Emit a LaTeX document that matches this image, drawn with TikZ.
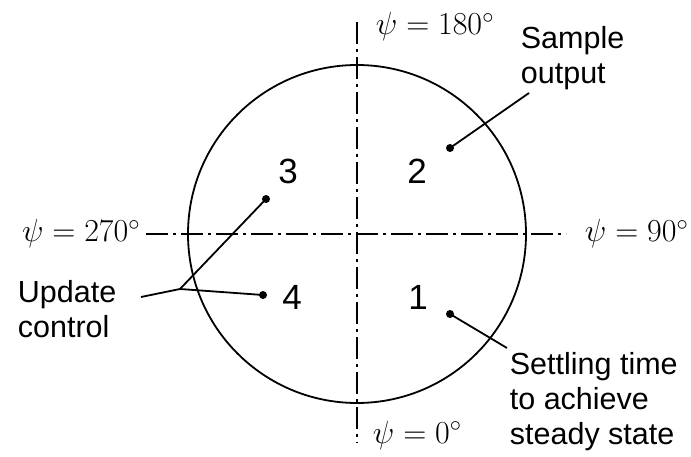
\RequirePackage{fix-cm}
\documentclass[tikz,border=0pt]{standalone}
\usepackage{fontspec}
\setmainfont{Liberation Serif}
\newfontfamily\labelfont{Liberation Sans}
\usetikzlibrary{positioning}
\tikzset{every picture/.style={line width=1.8pt}}

\begin{document}
\begin{tikzpicture}[x=1pt, y=-1pt,
    axis/.style={dash pattern=on 22pt off 5pt on 3pt off 5pt},
    note/.style={font=\labelfont\fontsize{30.5}{35}\selectfont, align=left, inner sep=0pt, anchor=north west},
    quad/.style={font=\labelfont\fontsize{35}{40}\selectfont, inner sep=0pt},
    angle/.style={font=\fontsize{32}{36}\selectfont, inner sep=0pt},
    dot/.style={fill, circle, inner sep=0pt, minimum size=8pt}]
    \useasboundingbox (0,0) rectangle (691,457);
    % Kreis und Achsen
    \coordinate (c) at (357,234);
    \draw (c) circle (169pt);
    \coordinate (top) at (357,22);
    \coordinate (bot) at (357,443);
    \coordinate (lft) at (146,234);
    \coordinate (rgt) at (566,234);
    \draw[axis] (top) -- (bot);
    \draw[axis] (lft) -- (rgt);
    % Winkel
    \node[angle, anchor=base west] (a180) at (375,35) {$\psi=180^\circ$};
    \node[angle, anchor=base east] (a270) at (141,242) {$\psi=270^\circ$};
    \node[angle, anchor=base west] (a90) at (584,242) {$\psi=90^\circ$};
    \node[angle, anchor=base west] (a0) at (372,443) {$\psi=0^\circ$};
    % Quadranten
    \node[quad] (q1) at (418,297) {1};
    \node[quad] (q2) at (417,171) {2};
    \node[quad] (q3) at (288,171) {3};
    \node[quad] (q4) at (292,297) {4};
    % Punkte
    \node[dot] (d1) at (450,314) {};
    \node[dot] (d2) at (450,148) {};
    \node[dot] (d3) at (266,199) {};
    \node[dot] (d4) at (263,295) {};
    % Beschriftungen
    \node[note] (sample) at (520,26) {Sample\\output};
    \node[note] (update) at (17,279) {Update\\control};
    \node[note] (settle) at (509,351) {Settling time\\to achieve\\steady state};
    \coordinate (sampleend) at (529,93);
    \coordinate (settleend) at (507,348);
    \coordinate (updateend) at (141,297);
    \coordinate (fork) at (180,289);
    % Hinweislinien
    \draw (d2.center) -- (sampleend);
    \draw (d1.center) -- (settleend);
    \draw (updateend) -- (fork) -- (d3.center);
    \draw (fork) -- (d4.center);
\end{tikzpicture}
\end{document}
